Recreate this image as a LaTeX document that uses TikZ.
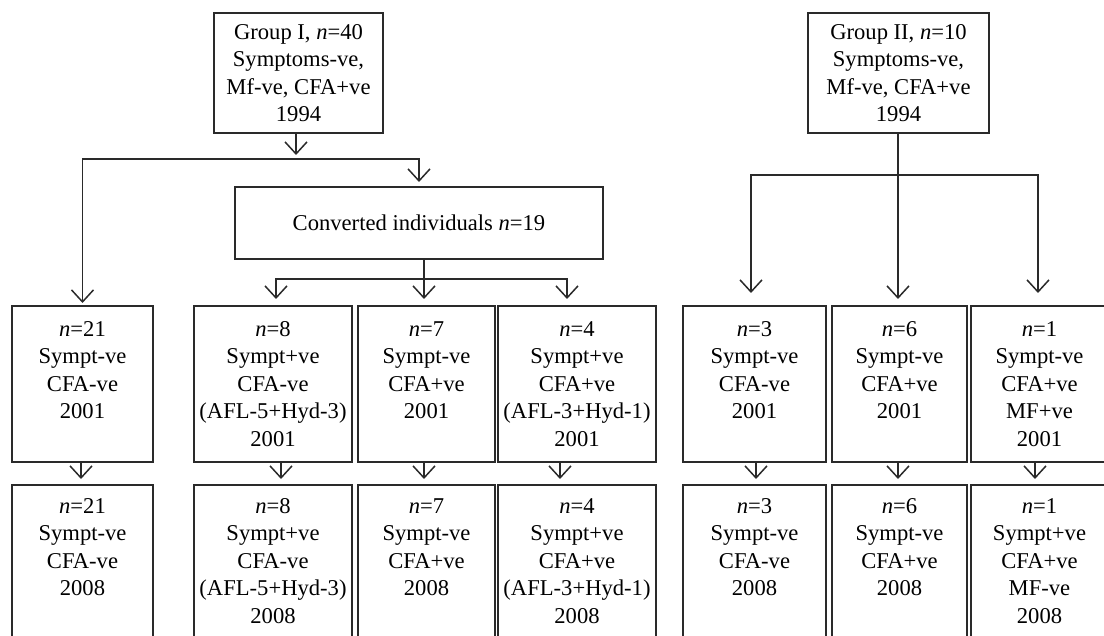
\documentclass[tikz,border=0pt]{standalone}
\usepackage{fontspec}
\setmainfont{Liberation Serif}
\usetikzlibrary{arrows.meta}
\definecolor{linec}{HTML}{2A2A2A}
\tikzset{
  box/.style={draw=linec, line width=1.5pt, inner sep=0pt, outer sep=0pt, align=center,
    font=\fontsize{22.6}{27.5}\selectfont, text=black},
  txt/.style={inner sep=0pt, align=center, font=\fontsize{22.6}{27.5}\selectfont, text=black},
  conn/.style={draw=linec, line width=1.5pt},
  arr/.style={conn, -{Straight Barb[length=12pt,width=22pt,line width=1.5pt]}},
}
\begin{document}
\begin{tikzpicture}[x=1pt,y=-1pt]
\path[use as bounding box] (0,0) rectangle (1104,636);
\clip (0,0) rectangle (1104,636);
% top boxes
\node[box, minimum width=169pt, minimum height=120pt] (g1) at (298.5,73)
  {Group I, \textit{n}=40\\Symptoms-ve,\\Mf-ve, CFA+ve\\1994};
\node[box, minimum width=181pt, minimum height=120pt] (g2) at (898.5,73)
  {Group II, \textit{n}=10\\Symptoms-ve,\\Mf-ve, CFA+ve\\1994};
\node[box, minimum width=368pt, minimum height=72pt] (conv) at (419,223)
  {Converted individuals \textit{n}=19};
% row 1 (2001)
\node[box, minimum width=141pt, minimum height=156pt] (r1a) at (82.5,384)
  {\textit{n}=21\\Sympt-ve\\CFA-ve\\2001\\~};
\node[box, minimum width=158pt, minimum height=156pt] (r1b) at (273,384)
  {\textit{n}=8\\Sympt+ve\\CFA-ve\\(AFL-5+Hyd-3)\\2001};
\node[box, minimum width=137pt, minimum height=156pt] (r1c) at (426.5,384)
  {\textit{n}=7\\Sympt-ve\\CFA+ve\\2001\\~};
\node[box, minimum width=158pt, minimum height=156pt] (r1d) at (577,384)
  {\textit{n}=4\\Sympt+ve\\CFA+ve\\(AFL-3+Hyd-1)\\2001};
\node[box, minimum width=143pt, minimum height=156pt] (r1e) at (754.5,384)
  {\textit{n}=3\\Sympt-ve\\CFA-ve\\2001\\~};
\node[box, minimum width=135pt, minimum height=156pt] (r1f) at (899.5,384)
  {\textit{n}=6\\Sympt-ve\\CFA+ve\\2001\\~};
\node[box, minimum width=137pt, minimum height=156pt] (r1g) at (1039.5,384)
  {\textit{n}=1\\Sympt-ve\\CFA+ve\\MF+ve\\2001};
% row 2 (2008) boxes, cut by the lower edge
\node[box, minimum width=141pt, minimum height=200pt] (r2a) at (82.5,585) {};
\node[box, minimum width=158pt, minimum height=200pt] (r2b) at (273,585) {};
\node[box, minimum width=137pt, minimum height=200pt] (r2c) at (426.5,585) {};
\node[box, minimum width=158pt, minimum height=200pt] (r2d) at (577,585) {};
\node[box, minimum width=143pt, minimum height=200pt] (r2e) at (754.5,585) {};
\node[box, minimum width=135pt, minimum height=200pt] (r2f) at (899.5,585) {};
\node[box, minimum width=137pt, minimum height=200pt] (r2g) at (1039.5,585) {};
\node[txt] (t2a) at (82.5,561) {\textit{n}=21\\Sympt-ve\\CFA-ve\\2008\\~};
\node[txt] (t2b) at (273,561) {\textit{n}=8\\Sympt+ve\\CFA-ve\\(AFL-5+Hyd-3)\\2008};
\node[txt] (t2c) at (426.5,561) {\textit{n}=7\\Sympt-ve\\CFA+ve\\2008\\~};
\node[txt] (t2d) at (577,561) {\textit{n}=4\\Sympt+ve\\CFA+ve\\(AFL-3+Hyd-1)\\2008};
\node[txt] (t2e) at (754.5,561) {\textit{n}=3\\Sympt-ve\\CFA-ve\\2008\\~};
\node[txt] (t2f) at (899.5,561) {\textit{n}=6\\Sympt-ve\\CFA+ve\\2008\\~};
\node[txt] (t2g) at (1039.5,561) {\textit{n}=1\\Sympt+ve\\CFA+ve\\MF-ve\\2008};
% Group I connectors
\coordinate (j1) at (296,159);
\draw[arr, shorten >=4pt] (g1.south -| j1) -- (j1);
\draw[arr, shorten >=3pt] (j1) -| (r1a.north);
\draw[arr, shorten >=5pt] (j1) -| (conv.north);
% converted connectors
\coordinate (j2) at (424,279);
\draw[arr, shorten >=7pt] (conv.south -| j2) -- ([xshift=-2.5pt]r1c.north);
\draw[arr, shorten >=7pt] (j2) -| ([xshift=3pt]r1b.north);
\draw[arr, shorten >=7pt] (j2) -| ([xshift=-10pt]r1d.north);
% Group II connectors
\coordinate (j3) at (898,175);
\draw[arr, shorten >=7pt] (g2.south -| j3) -- ([xshift=-1.5pt]r1f.north);
\draw[arr, shorten >=13pt] (j3) -| ([xshift=-3.5pt]r1e.north);
\draw[arr, shorten >=13pt] (j3) -| ([xshift=-1.5pt]r1g.north);
% 2001 -> 2008
\draw[arr, shorten >=6pt] ([xshift=-1.5pt]r1a.south) -- ([xshift=-1.5pt]r2a.north);
\draw[arr, shorten >=6pt] ([xshift=8pt]r1b.south) -- ([xshift=8pt]r2b.north);
\draw[arr, shorten >=6pt] ([xshift=-2.5pt]r1c.south) -- ([xshift=-2.5pt]r2c.north);
\draw[arr, shorten >=6pt] ([xshift=-17pt]r1d.south) -- ([xshift=-17pt]r2d.north);
\draw[arr, shorten >=6pt] ([xshift=1.5pt]r1e.south) -- ([xshift=1.5pt]r2e.north);
\draw[arr, shorten >=6pt] ([xshift=-1.5pt]r1f.south) -- ([xshift=-1.5pt]r2f.north);
\draw[arr, shorten >=6pt] ([xshift=-4.5pt]r1g.south) -- ([xshift=-4.5pt]r2g.north);
\end{tikzpicture}
\end{document}
